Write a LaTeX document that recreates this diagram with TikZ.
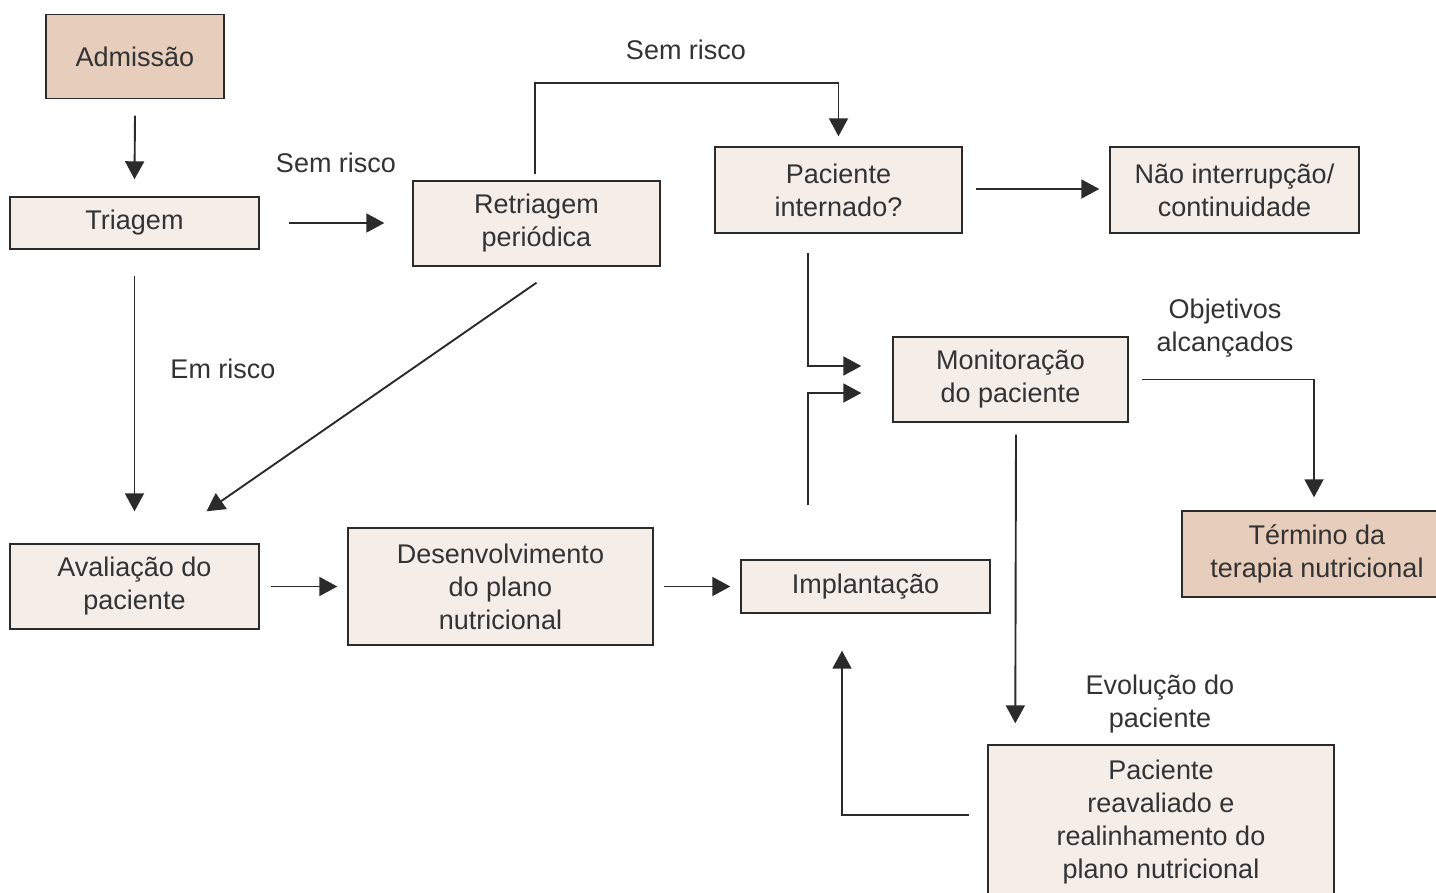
\documentclass[tikz,border=0pt]{standalone}
\usepackage{fontspec}
\setmainfont{Liberation Sans}
\usetikzlibrary{arrows.meta,calc}
\definecolor{boxlight}{HTML}{F4EDE8}
\definecolor{boxdark}{HTML}{E7CDBB}
\definecolor{ink}{HTML}{2B2B2B}
\definecolor{txt}{HTML}{333333}

\begin{document}
\begin{tikzpicture}[x=1pt,y=-1pt,
  box/.style={draw=ink, line width=1.4pt, fill=boxlight, inner sep=0pt,
    align=center, text=txt, font=\fontsize{27}{33}\selectfont},
  darkbox/.style={box, fill=boxdark},
  lbl/.style={align=center, text=txt, inner sep=0pt,
    font=\fontsize{27}{33}\selectfont},
  arr/.style={draw=ink, line width=1.9pt,
    -{Triangle[length=18pt,width=19pt]}}]

\useasboundingbox[fill=white] (0,0) rectangle (1436,893);
\clip (0,0) rectangle (1436,893);

% process boxes
\node[darkbox, minimum width=178pt, minimum height=84pt] (adm) at (135,56.5) {Admissão};
\node[box, minimum width=249pt, minimum height=52pt] (tri) at (134.5,223) {Triagem};
\node[box, minimum width=247pt, minimum height=85pt] (ret) at (536.5,223.5) {Retriagem\\periódica};
\node[box, minimum width=247pt, minimum height=86pt] (pin) at (838.5,190) {Paciente\\internado?};
\node[box, minimum width=249pt, minimum height=86pt] (nao) at (1234.5,190) {Não interrupção/\\continuidade};
\node[box, minimum width=235pt, minimum height=85pt] (mon) at (1010.5,379.5) {Monitoração\\do paciente};
\node[darkbox, minimum width=270pt, minimum height=86pt] (ter) at (1317,554) {Término da\\terapia nutricional};
\node[box, minimum width=249pt, minimum height=85pt] (ava) at (134.5,586.5) {Avaliação do\\paciente};
\node[box, minimum width=305pt, minimum height=117pt] (des) at (500.5,586.5) {Desenvolvimento\\do plano\\nutricional};
\node[box, minimum width=249pt, minimum height=53pt] (imp) at (865.5,586.5) {Implantação};
\node[box, minimum width=346pt, minimum height=154pt] (rea) at (1161,822) {Paciente\\reavaliado e\\realinhamento do\\plano nutricional};

% edge labels
\node[lbl] (l1) at (336,163) {Sem risco};
\node[lbl] (l2) at (223,369) {Em risco};
\node[lbl] (l3) at (686,50) {Sem risco};
\node[lbl] (l4) at (1225,328) {Objetivos\\alcançados};
\node[lbl] (l5) at (1160,704) {Evolução do\\paciente};

% connectors
\draw[arr] ($(adm.south)+(0,16.5)$) -- ($(tri.north)+(0,-17)$);
\draw[arr] ($(tri.east)+(29,0)$) -- ($(tri.east -| ret.west)+(-28,0)$);
\draw[arr] ($(tri.south)+(0,26)$) -- ($(ava.north)+(0,-32)$);
\draw[arr] ($(ret.south)+(0,16)$) -- ($(ava.north)+(72,-32)$);
\draw[arr] ($(ret.north)+(-1.5,-6)$) |- ($(pin.north)+(0,-63)$) -- ($(pin.north)+(0,-10)$);
\draw[arr] ($(pin.east)+(13,-1)$) -- ($(nao.west)+(-10,-1)$);
\draw[arr] ($(pin.south)+(-30.5,19)$) |- ($(mon.west)+(-31,-13.5)$);
\draw[arr] ($(imp.north)+(-57.5,-54)$) |- ($(mon.west)+(-31,13.5)$);
\draw[arr] ($(mon.east)+(13,0)$) -| ($(ter.north)+(-3,-13)$);
\draw[arr] ($(mon.south)+(5.5,12)$) -- ($(rea.north west)+(28,-21)$);
\draw[arr] ($(rea.west)+(-18,-7)$) -| ($(imp.south)+(-23.5,37)$);
\draw[arr] ($(ava.east)+(11,0)$) -- ($(des.west)+(-10,0)$);
\draw[arr] ($(des.east)+(10,0)$) -- ($(imp.west)+(-10,0)$);

\end{tikzpicture}
\end{document}
